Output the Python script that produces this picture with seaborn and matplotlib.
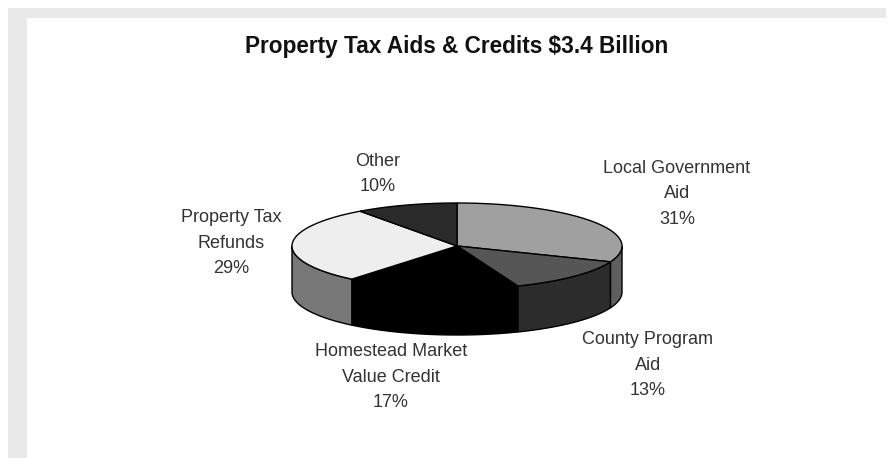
import numpy as np
import seaborn as sns
import matplotlib.pyplot as plt
from matplotlib.patches import Rectangle

# values
categories = ['Local Government\nAid', 'County Program\nAid', 'Homestead Market\nValue Credit',
              'Property Tax\nRefunds', 'Other']
shares = [31, 13, 17, 29, 10]
title = 'Property Tax Aids & Credits $3.4 Billion'

top_colors = ['#a0a0a0', '#565656', '#000000', '#eeeeee', '#2a2a2a']
side_colors = ['#5e5e5e', '#2c2c2c', '#000000', '#787878', '#1a1a1a']
label_pos = [(677, 194), (648, 365), (391, 377), (231, 243), (378, 174)]

# pie geometry in image pixels
CX, CY = 457, 246
RX, RY = 165, 43
DEPTH = 46

sns.set_theme(style='white')
plt.rcParams['font.family'] = ['Liberation Sans', 'DejaVu Sans']

fig = plt.figure(figsize=(8.91, 4.58), dpi=100, facecolor='white')
ax = fig.add_axes([0, 0, 1, 1])
ax.set_xlim(0, 891)
ax.set_ylim(458, 0)
ax.axis('off')

# grey page frame
ax.add_patch(Rectangle((8, 8), 878, 450, fc='#e9e9e9', ec='none', zorder=0))
ax.add_patch(Rectangle((27, 18), 859, 440, fc='white', ec='none', zorder=0))


def rim(a0, a1):
    # angles run clockwise from 12 o'clock
    t = np.radians(np.linspace(a0, a1, 80))
    return CX + RX * np.sin(t), CY - RY * np.cos(t)


edges = np.cumsum([0] + shares) * 3.6

# outer wall, only the front half shows
for i in range(len(shares)):
    a0, a1 = max(edges[i], 90), min(edges[i + 1], 270)
    if a1 <= a0:
        continue
    x, y = rim(a0, a1)
    ax.fill(np.r_[x, x[::-1]], np.r_[y, y[::-1] + DEPTH], fc=side_colors[i], ec='black', lw=1, zorder=2)

# top face
for i in range(len(shares)):
    x, y = rim(edges[i], edges[i + 1])
    ax.fill(np.r_[CX, x], np.r_[CY, y], fc=top_colors[i], ec='black', lw=1, zorder=3)

for name, share, (lx, ly) in zip(categories, shares, label_pos):
    ax.text(lx, ly, f'{name}\n{share}%', ha='center', va='center', fontsize=13,
            color='#333333', linespacing=1.66)

ax.text(457, 47, title, ha='center', va='center', fontsize=16.3, fontweight='bold', color='#111111')

fig.savefig('out.png', dpi=100)
plt.close(fig)
